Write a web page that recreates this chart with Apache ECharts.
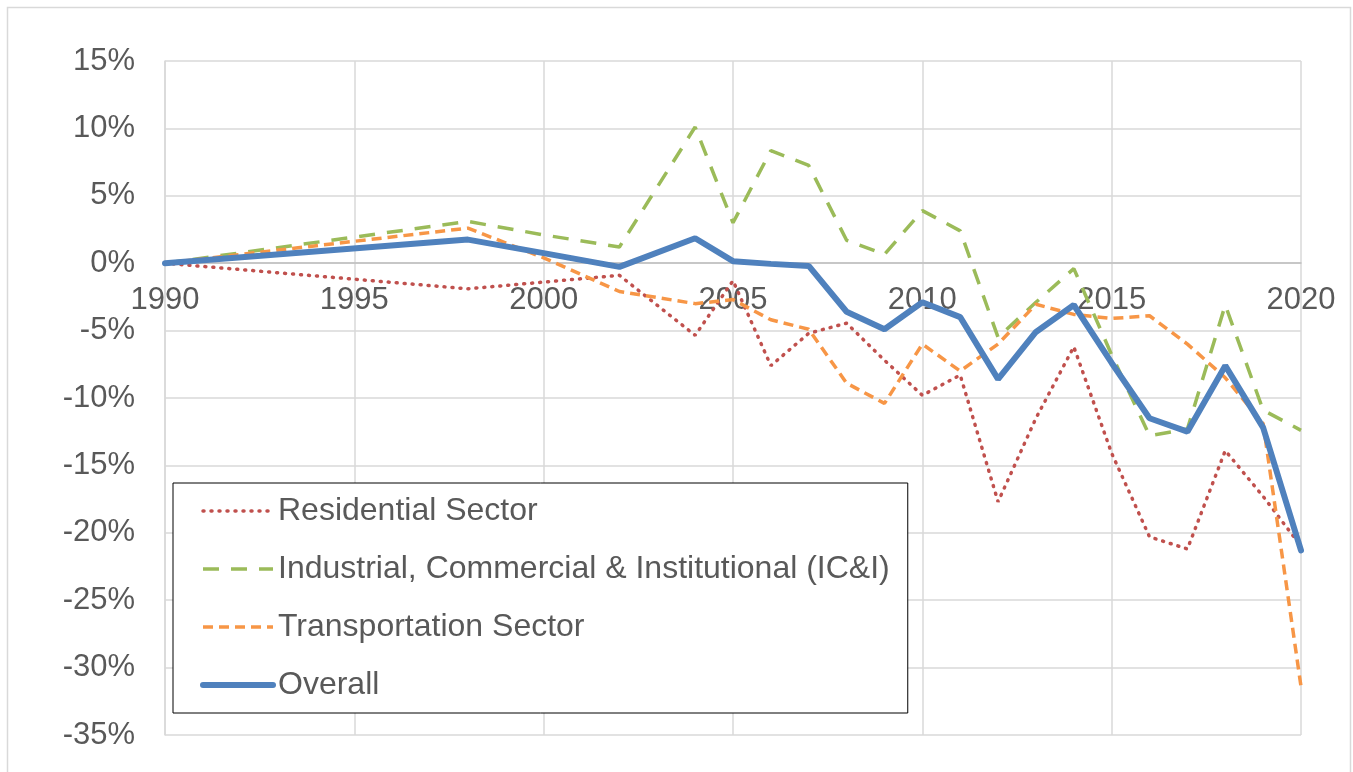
<!DOCTYPE html>
<html>
<head>
<meta charset="utf-8">
<script src="https://cdn.jsdelivr.net/npm/echarts@6/dist/echarts.min.js"></script>
<style>
  html, body { margin: 0; padding: 0; background: #fff; }
  #chart { width: 1353px; height: 772px; }
</style>
</head>
<body>
<div id="chart"></div>
<script>
// years with data
var years = [1990, 1998, 2000, 2002, 2004, 2005, 2006, 2007, 2008, 2009, 2010,
             2011, 2012, 2013, 2014, 2015, 2016, 2017, 2018, 2019, 2020];

// % change vs 1990
var residential = [0, -1.9, -1.4, -0.9, -5.35, -1.3, -7.6, -5.2, -4.45, -7.2, -9.8,
                   -8.3, -17.7, -11.5, -6.2, -14.1, -20.3, -21.2, -13.9, -17.3, -21.0];
var industrial = [0, 3.1, 2.1, 1.2, 10.1, 3.0, 8.35, 7.25, 1.7, 0.65, 3.9,
                  2.4, -5.5, -2.9, -0.4, -6.8, -12.8, -12.3, -3.1, -10.9, -12.4];
var transportation = [0, 2.6, 0.4, -2.1, -3.0, -2.7, -4.2, -4.9, -8.9, -10.4, -6.0,
                      -8.0, -6.0, -3.05, -3.8, -4.1, -3.9, -6.0, -8.5, -11.9, -31.4];
var overall = [0, 1.75, 0.75, -0.27, 1.85, 0.15, -0.05, -0.2, -3.6, -4.9, -2.9,
               -4.0, -8.6, -5.1, -3.1, -7.4, -11.5, -12.5, -7.6, -12.2, -21.3];

var seriesNames = ['Residential Sector', 'Industrial, Commercial & Institutional (IC&I)',
                   'Transportation Sector', 'Overall'];

function pairs(vals) {
  return years.map(function (y, i) { return [y, vals[i]]; });
}

var chart = echarts.init(document.getElementById('chart'));
var font = 'Liberation Sans, Arial, sans-serif';
var textColor = '#595959';

// plot box
var gridTop = 61, gridBottom = 37;
var yMin = -35, yMax = 15;
var plotH = 772 - gridTop - gridBottom;
// move the year axis up to the 0% line, like Excel does
var zeroY = gridTop + plotH * yMax / (yMax - yMin);
var xOffset = -((772 - gridBottom) - zeroY);

var options = {
  animation: false,
  textStyle: { fontFamily: font },
  graphic: [{
    type: 'rect',
    shape: { x: 7.5, y: 7.5, width: 1343, height: 790 },
    style: { fill: null, stroke: '#d9d9d9', lineWidth: 1.5 },
    silent: true
  }],
  grid: { left: 165, right: 52, top: gridTop, bottom: gridBottom, outerBoundsMode: 'none', containLabel: false },
  legend: {
    orient: 'vertical',
    left: 173,
    top: 483,
    data: seriesNames,
    backgroundColor: '#fff',
    borderColor: '#000',
    borderWidth: 1,
    padding: [12, 18, 12, 27],
    itemWidth: 70,
    itemHeight: 14,
    itemGap: 26,
    itemStyle: { opacity: 0 },
    lineStyle: { width: 'inherit', type: 'inherit', cap: 'inherit' },
    textStyle: { fontSize: 32, color: textColor, fontFamily: font, lineHeight: 32 }
  },
  xAxis: {
    type: 'value',
    min: 1990,
    max: 2020,
    interval: 5,
    offset: xOffset,
    axisLine: { onZero: false, lineStyle: { color: '#bfbfbf', width: 1.5 } },
    axisTick: { show: false },
    axisLabel: { fontSize: 31, color: textColor, margin: 22, formatter: function (v) { return String(v); } },
    splitLine: { show: true, lineStyle: { color: '#d9d9d9', width: 1.5 } }
  },
  yAxis: {
    type: 'value',
    min: yMin,
    max: yMax,
    interval: 5,
    axisLine: { show: true, onZero: false, lineStyle: { color: '#d9d9d9', width: 1.5 } },
    axisTick: { show: false },
    axisLabel: { fontSize: 31, color: textColor, margin: 30, formatter: '{value}%' },
    splitLine: { show: true, lineStyle: { color: '#d9d9d9', width: 1.5 } }
  },
  series: [
    {
      name: seriesNames[0], type: 'line', symbol: 'none', z: 2,
      lineStyle: { color: '#c0504d', width: 3.5, type: [1, 7], cap: 'round' },
      itemStyle: { color: '#c0504d' },
      data: pairs(residential)
    },
    {
      name: seriesNames[1], type: 'line', symbol: 'none', z: 3,
      lineStyle: { color: '#9bbb59', width: 3.5, type: [16, 12] },
      itemStyle: { color: '#9bbb59' },
      data: pairs(industrial)
    },
    {
      name: seriesNames[2], type: 'line', symbol: 'none', z: 4,
      lineStyle: { color: '#f79646', width: 3.5, type: [10, 6] },
      itemStyle: { color: '#f79646' },
      data: pairs(transportation)
    },
    {
      name: seriesNames[3], type: 'line', symbol: 'none', z: 5,
      lineStyle: { color: '#4f81bd', width: 6, cap: 'round' },
      itemStyle: { color: '#4f81bd' },
      data: pairs(overall)
    }
  ]
};
chart.setOption(options);
</script>
</body>
</html>
